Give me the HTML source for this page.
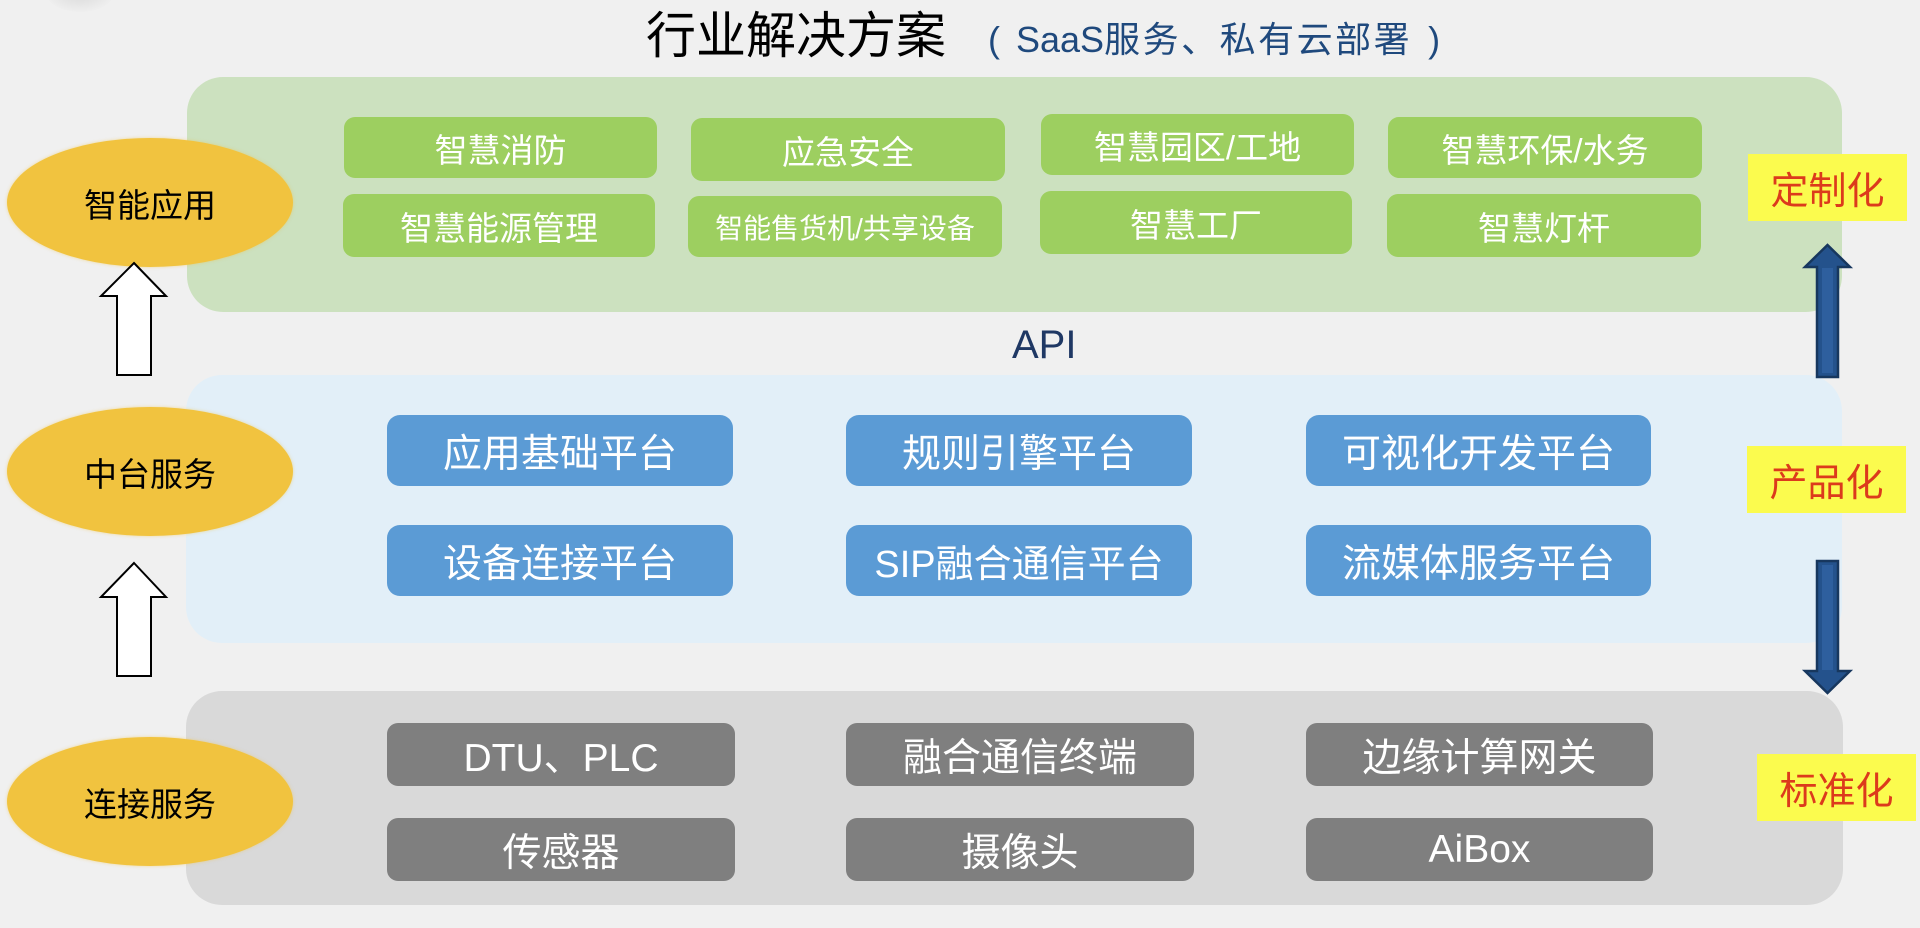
<!DOCTYPE html>
<html><head><meta charset="utf-8">
<style>
*{margin:0;padding:0;box-sizing:border-box}
html,body{width:1920px;height:928px;overflow:hidden;background:#f0f0f0}
body{position:relative;font-family:"Liberation Sans","Noto Sans CJK SC",sans-serif}
.a{position:absolute}
.panel{position:absolute;border-radius:36px}
.box{position:absolute;display:flex;align-items:center;justify-content:center;color:#fff;white-space:nowrap}
.g{background:#9dcf60;border-radius:11px;font-size:33px}
.b{background:#5b9bd5;border-radius:13px;font-size:39px}
.k{background:#7f7f7f;border-radius:11px;font-size:39px}
.ell{position:absolute;left:7px;width:286px;height:129px;border-radius:50%;background:#f1c33f;display:flex;align-items:center;justify-content:center;font-size:33px;color:#000;box-shadow:0 0 3px rgba(241,195,63,0.5)}
.lab{position:absolute;width:159px;height:67px;background:#fbfb4e;color:#dc3a1c;font-size:38px;display:flex;align-items:center;justify-content:center}
</style></head><body>
<div class="a" style="left:45px;top:-30px;width:70px;height:42px;border-radius:50%;background:radial-gradient(ellipse at center,#d8d8d8 0%,#e6e6e6 45%,rgba(240,240,240,0) 75%)"></div>

<div class="a" style="left:646px;top:8px;height:56px;line-height:56px;font-size:50px;color:#000;white-space:nowrap">行业解决方案</div>
<div class="a" style="left:988px;top:20px;height:40px;line-height:40px;font-size:36px;color:#1f497d;white-space:nowrap">(<span style="margin-left:16px">SaaS</span><span style="letter-spacing:2.5px">服务、私有云部署</span><span style="margin-left:16px">)</span></div>

<!-- panels -->
<div class="panel" style="left:187px;top:77px;width:1655px;height:235px;background:#cce1bf"></div>
<div class="panel" style="left:186px;top:375px;width:1656px;height:268px;background:#e2eff8"></div>
<div class="panel" style="left:186px;top:691px;width:1657px;height:214px;background:#d9d9d9"></div>

<!-- green boxes -->
<div class="box g" style="left:344px;top:117px;width:313px;height:61px">智慧消防</div>
<div class="box g" style="left:691px;top:118px;width:314px;height:63px">应急安全</div>
<div class="box g" style="left:1041px;top:114px;width:313px;height:61px">智慧园区/工地</div>
<div class="box g" style="left:1388px;top:117px;width:314px;height:61px">智慧环保/水务</div>
<div class="box g" style="left:343px;top:194px;width:312px;height:63px">智慧能源管理</div>
<div class="box g" style="left:688px;top:196px;width:314px;height:61px;font-size:28px">智能售货机/共享设备</div>
<div class="box g" style="left:1040px;top:191px;width:312px;height:63px">智慧工厂</div>
<div class="box g" style="left:1387px;top:194px;width:314px;height:63px">智慧灯杆</div>

<!-- API -->
<div class="a" style="left:1012px;top:323px;height:44px;line-height:44px;font-size:40px;color:#1f3864">API</div>

<!-- blue boxes -->
<div class="box b" style="left:387px;top:415px;width:346px;height:71px">应用基础平台</div>
<div class="box b" style="left:846px;top:415px;width:346px;height:71px">规则引擎平台</div>
<div class="box b" style="left:1306px;top:415px;width:345px;height:71px">可视化开发平台</div>
<div class="box b" style="left:387px;top:525px;width:346px;height:71px">设备连接平台</div>
<div class="box b" style="left:846px;top:525px;width:346px;height:71px;font-size:38px">SIP融合通信平台</div>
<div class="box b" style="left:1306px;top:525px;width:345px;height:71px">流媒体服务平台</div>

<!-- gray boxes -->
<div class="box k" style="left:387px;top:723px;width:348px;height:63px">DTU、PLC</div>
<div class="box k" style="left:846px;top:723px;width:348px;height:63px">融合通信终端</div>
<div class="box k" style="left:1306px;top:723px;width:347px;height:63px">边缘计算网关</div>
<div class="box k" style="left:387px;top:818px;width:348px;height:63px">传感器</div>
<div class="box k" style="left:846px;top:818px;width:348px;height:63px">摄像头</div>
<div class="box k" style="left:1306px;top:818px;width:347px;height:63px">AiBox</div>

<!-- ellipses -->
<div class="ell" style="top:138px">智能应用</div>
<div class="ell" style="top:407px">中台服务</div>
<div class="ell" style="top:737px">连接服务</div>

<!-- right labels -->
<div class="lab" style="left:1748px;top:154px">定制化</div>
<div class="lab" style="left:1747px;top:446px">产品化</div>
<div class="lab" style="left:1757px;top:754px">标准化</div>

<svg class="a" style="left:0;top:0" width="1920" height="928" viewBox="0 0 1920 928">
  <!-- white up arrows -->
  <polygon points="134,263 166,296 151,296 151,375 117,375 117,296 101,296" fill="#fff" stroke="#000" stroke-width="2"/>
  <polygon points="134,563 166,597 151,597 151,676 117,676 117,597 101,597" fill="#fff" stroke="#000" stroke-width="2"/>
  <!-- dark blue arrows -->
  <polygon points="1827.5,245 1850,267 1838,267 1838,377 1817,377 1817,267 1805,267" fill="#24528c" stroke="#17375e" stroke-width="2.5"/>
  <rect x="1822" y="268" width="11" height="105" fill="#2e5f9e"/>
  <polygon points="1817,561 1838,561 1838,671 1850,671 1827.5,693 1805,671 1817,671" fill="#24528c" stroke="#17375e" stroke-width="2.5"/>
  <rect x="1822" y="565" width="11" height="105" fill="#2e5f9e"/>
</svg>
</body></html>
